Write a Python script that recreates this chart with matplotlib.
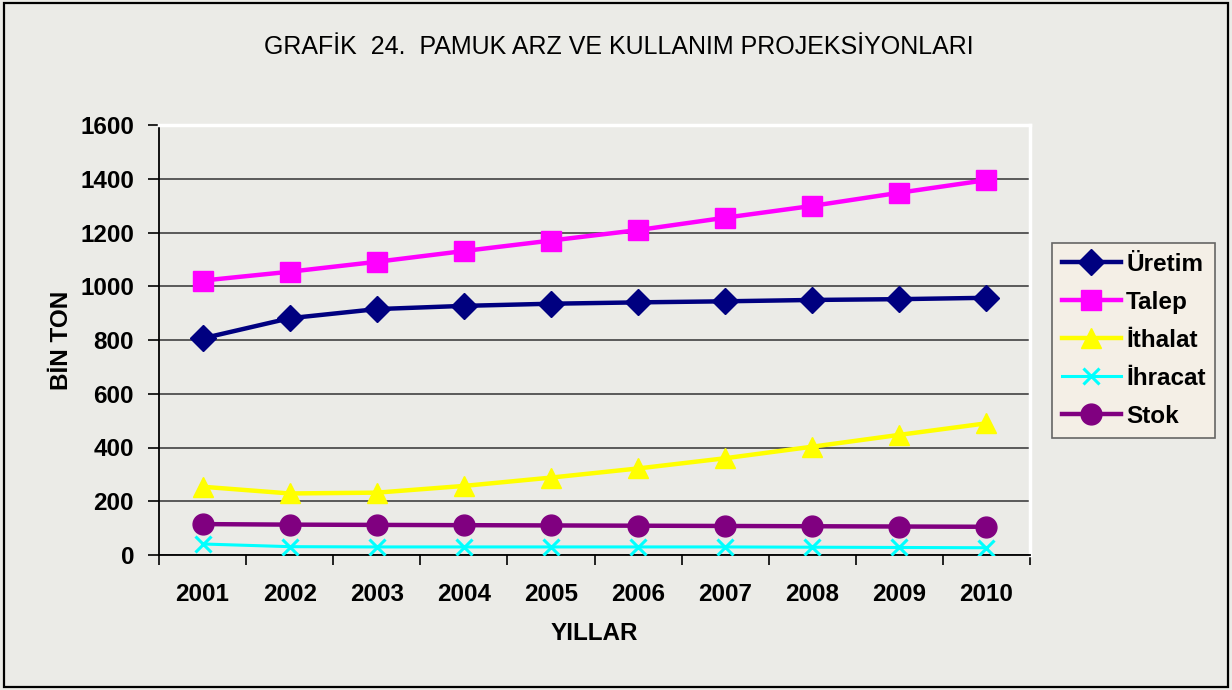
import numpy as np
import matplotlib
matplotlib.use("Agg")
import matplotlib.pyplot as plt
from matplotlib.patches import Rectangle
from matplotlib.ticker import FixedLocator

plt.rcParams['font.family'] = ['Liberation Sans', 'DejaVu Sans']

# veriler
yillar = ['2001', '2002', '2003', '2004', '2005', '2006', '2007', '2008', '2009', '2010']
uretim = [806, 881, 915, 927, 935, 940, 944, 949, 952, 957]
talep = [1021, 1054, 1091, 1131, 1170, 1209, 1255, 1299, 1348, 1395]
ithalat = [254, 229, 232, 257, 288, 322, 360, 403, 447, 490]
ihracat = [41, 31, 30, 30, 30, 30, 30, 29, 28, 27]
stok = [115, 113, 112, 111, 110, 109, 108, 107, 106, 105]

bg = '#ebebe7'
fs = 17.5
fig = plt.figure(figsize=(12.32, 6.9), dpi=100)
fig.patch.set_facecolor(bg)
fig.patches.append(Rectangle((4/1232, 3/690), 1224/1232, 684/690, transform=fig.transFigure,
                             fill=False, edgecolor='black', linewidth=1.6))

ax = fig.add_axes([159/1232, 1 - 555/690, 871/1232, 430/690])
ax.set_facecolor(bg)
x = np.arange(len(yillar))

ax.plot(x, uretim, color='#000080', lw=3.2, marker='D', ms=13, label='Üretim', zorder=4)
ax.plot(x, talep, color='#ff00ff', lw=3.2, marker='s', ms=14, label='Talep', zorder=4)
ax.plot(x, ithalat, color='#ffff00', lw=3.2, marker='^', ms=15, label='İthalat', zorder=4)
ax.plot(x, ihracat, color='#00ffff', lw=2.2, marker='x', ms=11, mew=2.2, label='İhracat', zorder=4)
ax.plot(x, stok, color='#800080', lw=3.2, marker='o', ms=15, label='Stok', zorder=4)

ax.set_xlim(-0.5, 9.5)
ax.set_ylim(0, 1600)
ax.set_yticks(range(0, 1601, 200))
ax.set_xticks(x)
ax.set_xticklabels(yillar)
ax.xaxis.set_minor_locator(FixedLocator(np.arange(-0.5, 10, 1)))
ax.tick_params(axis='x', which='major', length=0, pad=20)
ax.tick_params(axis='x', which='minor', length=7, width=1.2, direction='out')
ax.tick_params(axis='y', length=8, width=1.2, direction='out', pad=10)
for lab in ax.get_xticklabels() + ax.get_yticklabels():
    lab.set_fontsize(fs)
    lab.set_fontweight('bold')

ax.grid(axis='y', color='#333333', lw=1.1)
ax.set_axisbelow(True)
for s in ['left', 'bottom']:
    ax.spines[s].set_color('black')
    ax.spines[s].set_linewidth(1.3)
for s in ['top', 'right']:
    ax.spines[s].set_color('white')
    ax.spines[s].set_linewidth(2.5)

ax.set_xlabel('YILLAR', fontsize=fs, fontweight='bold', labelpad=12)
ax.set_ylabel('BİN TON', fontsize=fs, fontweight='bold', labelpad=5)

fig.text(619/1232, 1 - 47/690, 'GRAFİK  24.  PAMUK ARZ VE KULLANIM PROJEKSİYONLARI',
         ha='center', va='center', fontsize=18)

leg = fig.legend(loc='upper left', bbox_to_anchor=(1052/1232, 1 - 243/690),
                 frameon=True, fancybox=False, fontsize=fs, handlelength=2.45,
                 handletextpad=0.2, labelspacing=0.62, borderpad=0.4, borderaxespad=0)
leg.get_frame().set_facecolor('#f7f1e6')
leg.get_frame().set_edgecolor('#444444')
leg.get_frame().set_linewidth(1.2)
for t in leg.get_texts():
    t.set_fontweight('bold')

fig.savefig('out.png', dpi=100, facecolor=fig.get_facecolor())
